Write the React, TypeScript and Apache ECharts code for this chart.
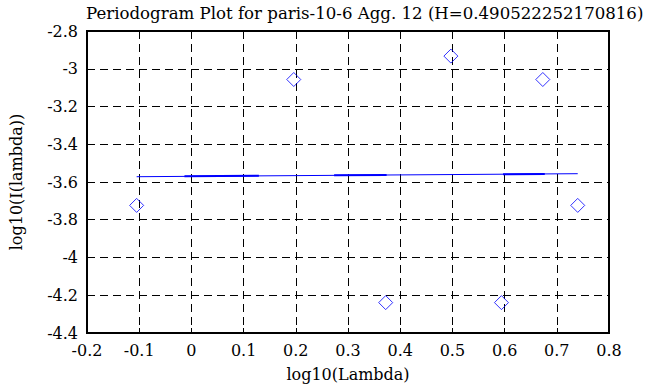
import React, { useEffect, useRef } from "react";
import * as echarts from "echarts";

const titleText = "Periodogram Plot for paris-10-6 Agg. 12 (H=0.490522252170816)";
const xName = "log10(Lambda)";
const yName = "log10(I(lambda))";

const pointX = [-0.1049, 0.1961, 0.3722, 0.4971, 0.594, 0.6732, 0.7401];
const pointY = [-3.724, -3.057, -4.239, -2.933, -4.239, -3.057, -3.724];

const fitX = [-0.1049, 0.7401];
const fitY = [-3.572, -3.556];

const thickStartX = [-0.0133, 0.2734, 0.597];
const thickEndX = [0.1293, 0.374, 0.677];
const thickStartY = [-3.5695, -3.5645, -3.5585];
const thickEndY = [-3.567, -3.5627, -3.5572];

const FONT = "DejaVu Serif";

export default function App() {
  const ref = useRef<HTMLDivElement>(null);
  useEffect(() => {
    if (!ref.current) return;
    const chart = echarts.init(ref.current, undefined, { renderer: "svg" });
    const thickData: any[] = [];
    thickStartX.forEach((x, i) => {
      thickData.push([x, thickStartY[i]]);
      thickData.push([thickEndX[i], thickEndY[i]]);
      thickData.push([null, null]);
    });
    const axisCommon = {
      axisLine: { show: true, onZero: false, lineStyle: { color: "#000", width: 2 } },
      axisTick: { show: true, inside: true, length: 5, lineStyle: { color: "#000", width: 1 } },
      splitLine: { show: true, lineStyle: { color: "#000", width: 1, type: [8, 5] as any } },
      axisLabel: { color: "#000", fontFamily: FONT, fontSize: 16 },
      nameTextStyle: { color: "#000", fontFamily: FONT, fontSize: 16 },
    };
    chart.setOption({
      animation: false,
      backgroundColor: "#fff",
      title: {
        text: titleText,
        left: 81,
        top: 0,
        textStyle: { color: "#000", fontFamily: FONT, fontSize: 16.6, fontWeight: "normal" },
      },
      grid: {
        left: 82,
        right: 49,
        top: 31,
        bottom: 53,
        show: true,
        borderColor: "#000",
        borderWidth: 2,
        backgroundColor: "transparent",
      },
      xAxis: {
        type: "value",
        min: -0.2,
        max: 0.8,
        interval: 0.1,
        name: xName,
        nameLocation: "middle",
        nameGap: 33,
        ...axisCommon,
        axisLabel: {
          ...axisCommon.axisLabel,
          margin: 9,
          formatter: (v: number) => String(Math.round(v * 10) / 10),
        },
      },
      yAxis: {
        type: "value",
        min: -4.4,
        max: -2.8,
        interval: 0.2,
        name: yName,
        nameLocation: "middle",
        nameRotate: 90,
        nameGap: 63,
        ...axisCommon,
        axisLabel: {
          ...axisCommon.axisLabel,
          margin: 9,
          formatter: (v: number) => String(Math.round(v * 10) / 10),
        },
      },
      series: [
        {
          type: "line",
          data: fitX.map((x, i) => [x, fitY[i]]),
          symbol: "none",
          lineStyle: { color: "#0000ff", width: 1 },
          z: 3,
        },
        {
          type: "line",
          data: thickData,
          symbol: "none",
          connectNulls: false,
          lineStyle: { color: "#0000ff", width: 2 },
          z: 4,
        },
        {
          type: "scatter",
          data: pointX.map((x, i) => [x, pointY[i]]),
          symbol: "diamond",
          symbolSize: [14, 14],
          itemStyle: { color: "transparent", borderColor: "#0000ff", borderWidth: 1 },
          z: 5,
        },
      ],
    });
    return () => chart.dispose();
  }, []);
  return <div ref={ref} style={{ width: 658, height: 387, position: "absolute", left: 0, top: 0 }} />;
}
